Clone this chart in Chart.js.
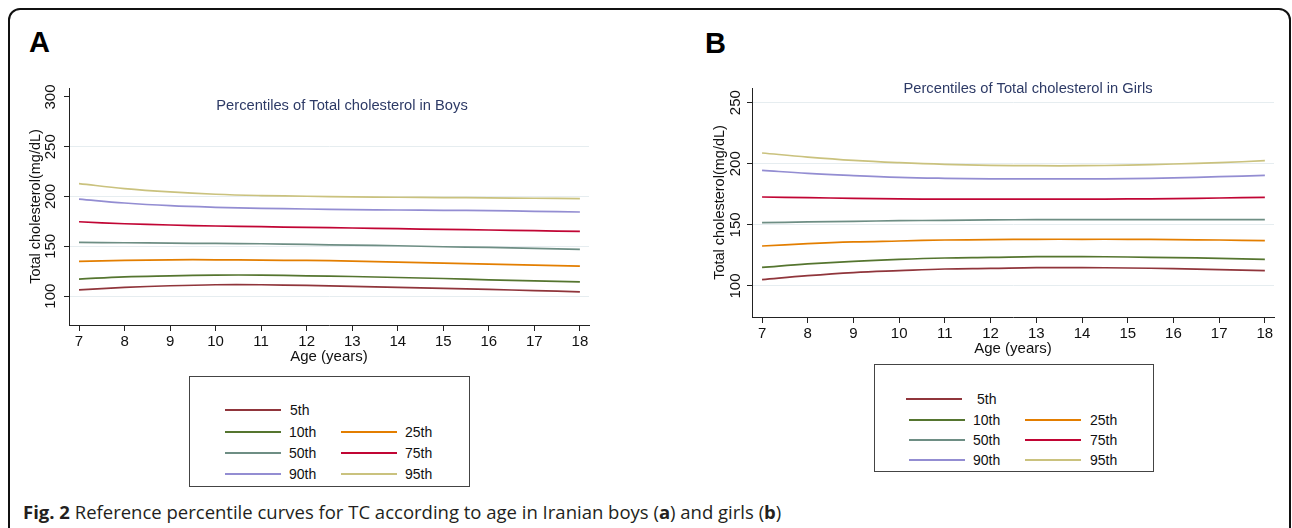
<!DOCTYPE html>
<html>
<head>
<meta charset="utf-8">
<script src="https://cdn.jsdelivr.net/npm/chart.js@4.4.0/dist/chart.umd.min.js"></script>
<style>
  body { margin: 0; width: 1292px; height: 528px; background: #fff; overflow: hidden; position: relative;
         font-family: "Liberation Sans", Arial, sans-serif; color: #111; }
  .frame { position: absolute; left: 8px; top: 8px; width: 1283px; height: 600px; border: 2px solid #111;
           border-radius: 12px; box-sizing: border-box; }
  .letter { position: absolute; font-weight: bold; font-size: 29px; line-height: 29px; color: #000; }
  .chart-box { position: absolute; width: 600px; height: 300px; }
  .legend { position: absolute; border: 1px solid #444; box-sizing: border-box; background: #fff; }
  .legend .swatch { position: absolute; height: 2px; width: 56px; }
  .legend .label { position: absolute; font-size: 14px; line-height: 16px; white-space: nowrap; }
  .caption { position: absolute; left: 23px; top: 500px; font-family: "Open Sans", sans-serif; font-size: 18.5px;
             line-height: 24px; color: #231f20; white-space: nowrap; }
</style>
</head>
<body>
<div class="frame"></div>
<div class="letter" style="left:29px; top:28px;">A</div>
<div class="letter" style="left:705px; top:29px;">B</div>

<div class="chart-box" style="left:0; top:80px;"><canvas id="boys-chart" width="600" height="300"></canvas></div>
<div class="chart-box" style="left:690px; top:80px;"><canvas id="girls-chart" width="600" height="300"></canvas></div>

<div class="legend" id="boys-legend" style="left:189px; top:376px; width:281px; height:111px;"></div>
<div class="legend" id="girls-legend" style="left:874px; top:364px; width:280px; height:108px;"></div>

<div class="caption"><b>Fig. 2</b> Reference percentile curves for TC according to age in Iranian boys (<b>a</b>) and girls (<b>b</b>)</div>

<script>
// ages on the x axis
const ages = [7, 8, 9, 10, 11, 12, 13, 14, 15, 16, 17, 18];
const percentileLabels = ["5th", "10th", "25th", "50th", "75th", "90th", "95th"];
const percentileColors = ["#90353b", "#55752f", "#e37e00", "#6e8e84", "#c10534", "#938dd2", "#cac27e"];

// boys, total cholesterol (mg/dL)
const boysP5 = [106.3, 108.7, 110.4, 111.4, 111.4, 110.7, 109.7, 108.7, 107.7, 106.7, 105.6, 104.3];
const boysP10 = [117.1, 119.4, 120.4, 121.1, 121.1, 120.4, 119.7, 118.7, 117.7, 116.4, 115.4, 114.4];
const boysP25 = [134.8, 135.8, 136.5, 136.5, 136.1, 135.8, 135.2, 134.2, 133.2, 132.2, 131.2, 130.2];
const boysP50 = [153.9, 153.6, 153.2, 152.9, 152.6, 151.9, 151.2, 150.6, 149.6, 148.9, 147.9, 146.9];
const boysP75 = [174.7, 172.7, 171.4, 170.4, 169.7, 169.0, 168.4, 167.7, 167.0, 166.4, 165.7, 165.0];
const boysP90 = [197.5, 193.5, 190.8, 189.2, 188.2, 187.5, 186.8, 186.5, 186.2, 185.8, 185.2, 184.5];
const boysP95 = [213.0, 208.0, 204.6, 202.3, 201.0, 200.3, 199.7, 199.3, 199.0, 198.7, 198.3, 198.0];

// girls, total cholesterol (mg/dL)
const girlsP5 = [105.2, 108.4, 110.9, 112.5, 113.9, 114.4, 115.0, 115.0, 114.7, 114.2, 113.3, 112.5];
const girlsP10 = [115.2, 118.0, 120.2, 121.8, 122.9, 123.4, 124.0, 124.0, 123.7, 123.2, 122.6, 121.8];
const girlsP25 = [132.7, 134.6, 136.0, 136.8, 137.6, 137.9, 138.2, 138.2, 138.2, 137.9, 137.6, 137.1];
const girlsP50 = [151.8, 152.4, 152.9, 153.4, 153.7, 154.0, 154.3, 154.3, 154.3, 154.3, 154.3, 154.3];
const girlsP75 = [172.8, 172.3, 171.7, 171.2, 171.0, 171.0, 171.0, 171.0, 171.2, 171.5, 172.0, 172.5];
const girlsP90 = [194.6, 192.1, 190.3, 188.9, 188.1, 187.6, 187.6, 187.6, 187.9, 188.4, 189.4, 190.5];
const girlsP95 = [208.8, 205.5, 202.8, 200.9, 199.5, 198.7, 198.4, 198.4, 198.9, 199.8, 200.9, 202.5];

const ageTicks = [7, 8, 9, 10, 11, 12, 13, 14, 15, 16, 17, 18];
const boysYTicks = [100, 150, 200, 250, 300];
const girlsYTicks = [100, 150, 200, 250];

const boysSeries = [boysP5, boysP10, boysP25, boysP50, boysP75, boysP90, boysP95];
const girlsSeries = [girlsP5, girlsP10, girlsP25, girlsP50, girlsP75, girlsP90, girlsP95];

Chart.defaults.font.family = "'Liberation Sans', Arial, sans-serif";
Chart.defaults.color = "#111";

// title sits inside the plot region, like Stata does it
const panelTitle = {
  id: "panelTitle",
  afterDraw(chart, args, opts) {
    const { ctx, chartArea } = chart;
    ctx.save();
    ctx.font = "14.7px 'Liberation Sans', Arial, sans-serif";
    ctx.fillStyle = "#2d3a66";
    ctx.textAlign = "center";
    ctx.textBaseline = "middle";
    ctx.fillText(opts.text, (chartArea.left + chartArea.right) / 2 + opts.dx, chartArea.top + opts.dy);
    ctx.restore();
  },
};

function buildChart(canvasId, series, cfg) {
  return new Chart(document.getElementById(canvasId), {
    type: "line",
    data: {
      datasets: series.map((values, i) => ({
        label: percentileLabels[i],
        data: ages.map((age, j) => ({ x: age, y: values[j] })),
        borderColor: percentileColors[i],
        borderWidth: 1.7,
        pointRadius: 0,
        tension: 0.4,
        fill: false,
      })),
    },
    plugins: [panelTitle],
    options: {
      responsive: false,
      animation: false,
      layout: { padding: { left: 0, top: 8, right: cfg.padRight, bottom: cfg.padBottom } },
      plugins: {
        legend: { display: false },
        tooltip: { enabled: false },
        panelTitle: { text: cfg.title, dx: cfg.titleDx, dy: cfg.titleDy },
      },
      scales: {
        x: {
          type: "linear",
          min: 6.78,
          max: 18.2,
          afterBuildTicks: (s) => { s.ticks = ageTicks.map((v) => ({ value: v })); },
          afterFit: (s) => { s.height = 45; s.paddingLeft = 0; s.paddingRight = 0; },
          grid: { drawOnChartArea: false, tickLength: 6, tickColor: "#222", tickWidth: 1 },
          border: { color: "#222", width: 1 },
          ticks: { font: { size: 15 }, color: "#111", padding: 2, maxRotation: 0, autoSkip: false },
          title: { display: true, text: "Age (years)", font: { size: 15 }, color: "#111",
                   padding: { top: 0, bottom: 4 } },
        },
        y: {
          type: "linear",
          min: cfg.yMin,
          max: cfg.yMax,
          afterBuildTicks: (s) => { s.ticks = cfg.yTicks.map((v) => ({ value: v })); },
          afterFit: (s) => { s.width = cfg.yWidth; s.paddingTop = 0; s.paddingBottom = 0; },
          grid: {
            color: (c) => (c.tick && cfg.noGrid.includes(c.tick.value) ? "rgba(0,0,0,0)" : "#e6edf0"),
            lineWidth: 1,
            tickLength: 5,
            tickColor: "#222",
            tickWidth: 1,
          },
          border: { color: "#222", width: 1 },
          ticks: { font: { size: 15 }, color: "#111", minRotation: 90, maxRotation: 90,
                   crossAlign: "center", padding: cfg.yTickPad, autoSkip: false },
          title: { display: true, text: "Total cholesterol(mg/dL)", font: { size: 14.5 }, color: "#111",
                   padding: { top: cfg.yTitlePad, bottom: 0 } },
        },
      },
    },
  });
}

buildChart("boys-chart", boysSeries, {
  title: "Percentiles of Total cholesterol in Boys", titleDx: 13, titleDy: 18,
  yMin: 71, yMax: 309, yTicks: boysYTicks, noGrid: [300],
  yWidth: 69, yTitlePad: 27, yTickPad: 1, padRight: 11, padBottom: 10,
});

buildChart("girls-chart", girlsSeries, {
  title: "Percentiles of Total cholesterol in Girls", titleDx: 15, titleDy: 1.3,
  yMin: 74.6, yMax: 262, yTicks: girlsYTicks, noGrid: [],
  yWidth: 62, yTitlePad: 21, yTickPad: -1, padRight: 16, padBottom: 18,
});

// legend layout: [lineLeft, textLeft, rowY] per percentile, relative to each box
const boysLegendSlots = [[35, 100, 33], [35, 99, 54.5], [151, 215, 54.5], [35, 99, 75.7],
                         [151, 215, 75.7], [35, 99, 96.7], [151, 215, 96.7]];
const girlsLegendSlots = [[31, 102, 33.5], [34, 98, 54.5], [150, 215, 54.5], [34, 98, 74.8],
                          [150, 215, 74.8], [34, 98, 94.5], [150, 215, 94.5]];

function buildLegend(boxId, slots) {
  const box = document.getElementById(boxId);
  box.innerHTML = percentileLabels
    .map((label, i) => {
      const [lineLeft, textLeft, rowY] = slots[i];
      return `
        <div class="swatch" style="left:${lineLeft}px; top:${rowY - 1}px; background:${percentileColors[i]};"></div>
        <div class="label" style="left:${textLeft}px; top:${rowY - 7.8}px;">${label}</div>
      `;
    })
    .join("");
}

buildLegend("boys-legend", boysLegendSlots);
buildLegend("girls-legend", girlsLegendSlots);
</script>
</body>
</html>
